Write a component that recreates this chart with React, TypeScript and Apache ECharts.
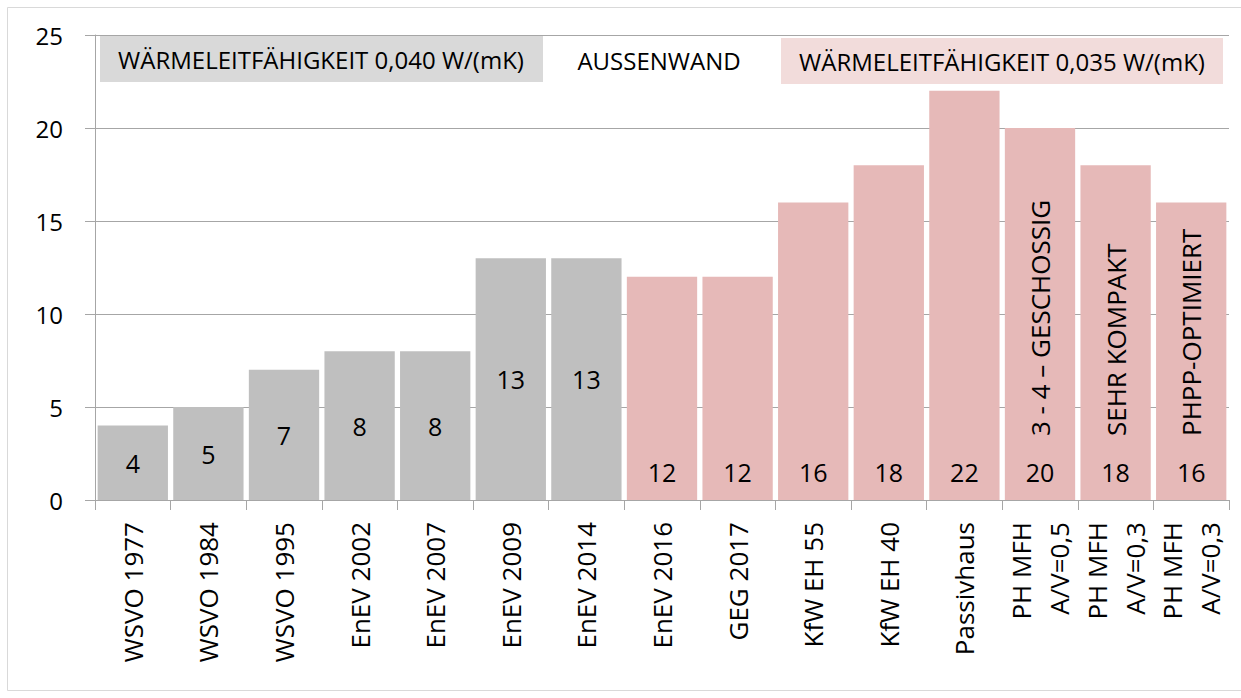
import React, { useEffect, useRef } from "react";
import * as echarts from "echarts";

const categories = [
  "WSVO 1977",
  "WSVO 1984",
  "WSVO 1995",
  "EnEV 2002",
  "EnEV 2007",
  "EnEV 2009",
  "EnEV 2014",
  "EnEV 2016",
  "GEG 2017",
  "KfW EH 55",
  "KfW EH 40",
  "Passivhaus",
  "PH MFH\nA/V=0,5",
  "PH MFH\nA/V=0,3",
  "PH MFH\nA/V=0,3",
];
const values = [4, 5, 7, 8, 8, 13, 13, 12, 12, 16, 18, 22, 20, 18, 16];
// Wärmeleitfähigkeit W/(mK) per category
const conductivity = [0.04, 0.04, 0.04, 0.04, 0.04, 0.04, 0.04, 0.035, 0.035, 0.035, 0.035, 0.035, 0.035, 0.035, 0.035];
const annotations = ["", "", "", "", "", "", "", "", "", "", "", "", "3 - 4 – GESCHOSSIG", "SEHR KOMPAKT", "PHPP-OPTIMIERT"];
const yTicks = { min: 0, max: 25, interval: 5 };
const boxTexts = ["WÄRMELEITFÄHIGKEIT 0,040 W/(mK)", "AUSSENWAND", "WÄRMELEITFÄHIGKEIT 0,035 W/(mK)"];

const FONT = "'Open Sans', 'Liberation Sans', sans-serif";
const GRAY = "#bfbfbf";
const PINK = "#e6b9b8";
const AXIS = "#a6a6a6";

export default function App() {
  const ref = useRef<HTMLDivElement>(null);
  useEffect(() => {
    if (!ref.current) return;
    const chart = echarts.init(ref.current, undefined, { renderer: "svg" });
    const mainData = values.map((v, i) => {
      const isOld = conductivity[i] === 0.04;
      return {
        value: v,
        itemStyle: { color: isOld ? GRAY : PINK },
        label: isOld
          ? { position: "inside" }
          : { position: "insideBottom", distance: 16 },
      };
    });
    const annData = values.map((v, i) => (annotations[i] ? { value: v, name: annotations[i] } : "-"));
    chart.setOption({
      animation: false,
      textStyle: { fontFamily: FONT },
      grid: { left: 95, right: 12, top: 35, bottom: 198, containLabel: false },
      graphic: [
        {
          type: "rect",
          silent: true,
          shape: { x: 7.5, y: 7.5, width: 1240, height: 683 },
          style: { fill: "none", stroke: "#d9d9d9", lineWidth: 1 },
          z: -10,
        },
        {
          type: "rect",
          shape: { x: 100, y: 36, width: 443, height: 46 },
          style: { fill: "#d9d9d9" },
          z: 10,
        },
        {
          type: "text",
          x: 321,
          y: 59,
          style: {
            text: boxTexts[0],
            fontSize: 24,
            fontFamily: FONT,
            fill: "#000",
            align: "center",
            verticalAlign: "middle",
          },
          z: 11,
        },
        {
          type: "text",
          x: 659,
          y: 60,
          style: {
            text: boxTexts[1],
            fontSize: 24,
            fontFamily: FONT,
            fill: "#000",
            align: "center",
            verticalAlign: "middle",
          },
          z: 11,
        },
        {
          type: "rect",
          shape: { x: 781, y: 38, width: 442, height: 46 },
          style: { fill: "#f2dcdb" },
          z: 10,
        },
        {
          type: "text",
          x: 1002,
          y: 61,
          style: {
            text: boxTexts[2],
            fontSize: 24,
            fontFamily: FONT,
            fill: "#000",
            align: "center",
            verticalAlign: "middle",
          },
          z: 11,
        },
      ],
      xAxis: {
        type: "category",
        data: categories,
        boundaryGap: true,
        axisLine: { show: true, lineStyle: { color: AXIS, width: 1 } },
        axisTick: { show: true, length: 10, lineStyle: { color: AXIS } },
        axisLabel: {
          interval: 0,
          rotate: 90,
          fontSize: 26,
          lineHeight: 38,
          color: "#000",
          margin: 22,
          fontFamily: FONT,
        },
        splitLine: { show: false },
      },
      yAxis: {
        type: "value",
        min: yTicks.min,
        max: yTicks.max,
        interval: yTicks.interval,
        axisLine: { show: true, lineStyle: { color: AXIS, width: 1 } },
        axisTick: { show: true, length: 10, lineStyle: { color: AXIS } },
        axisLabel: { fontSize: 24, color: "#000", margin: 32, fontFamily: FONT },
        splitLine: { show: true, lineStyle: { color: AXIS, width: 1 } },
      },
      series: [
        {
          type: "bar",
          data: mainData,
          barCategoryGap: "7%",
          label: {
            show: true,
            fontSize: 25,
            color: "#000",
            fontFamily: FONT,
          },
          z: 2,
        },
        {
          type: "bar",
          data: annData,
          barGap: "-100%",
          barCategoryGap: "7%",
          itemStyle: { color: "rgba(0,0,0,0)" },
          silent: true,
          label: {
            show: true,
            position: "insideBottom",
            distance: 64,
            rotate: 90,
            align: "left",
            verticalAlign: "middle",
            fontSize: 26,
            color: "#000",
            fontFamily: FONT,
            formatter: (p: any) => p.name || "",
          },
          z: 3,
        },
      ],
    });
    return () => chart.dispose();
  }, []);
  return (
    <div
      ref={ref}
      style={{ position: "absolute", left: 0, top: 0, width: 1241, height: 698, background: "#fff" }}
    />
  );
}
